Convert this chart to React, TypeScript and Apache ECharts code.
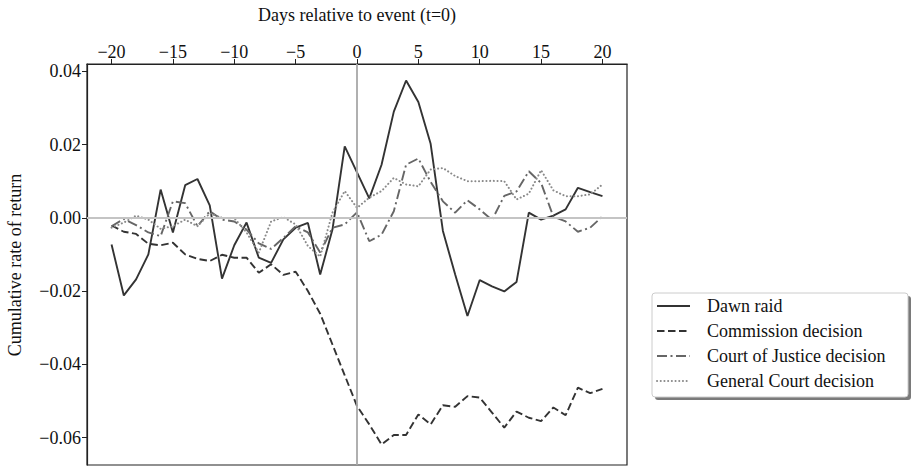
import React, { useEffect, useRef } from "react";
import * as echarts from "echarts";

const days = [-20, -19, -18, -17, -16, -15, -14, -13, -12, -11, -10, -9, -8, -7, -6, -5, -4, -3, -2, -1, 0, 1, 2, 3, 4, 5, 6, 7, 8, 9, 10, 11, 12, 13, 14, 15, 16, 17, 18, 19, 20];

const dawnRaid = [-0.0073, -0.0212, -0.0168, -0.0100, 0.0077, -0.0040, 0.0089, 0.0106, 0.0034, -0.0166, -0.0075, -0.0013, -0.0109, -0.0123, -0.0059, -0.0027, -0.0014, -0.0155, -0.0032, 0.0195, 0.0124, 0.0053, 0.0145, 0.0290, 0.0375, 0.0316, 0.0202, -0.0036, -0.0155, -0.0268, -0.0170, -0.0187, -0.0201, -0.0175, 0.0014, -0.0005, 0.0006, 0.0023, 0.0082, 0.0070, 0.0059];

const commission = [-0.0021, -0.0038, -0.0044, -0.0071, -0.0075, -0.0068, -0.0100, -0.0112, -0.0118, -0.0101, -0.0109, -0.0109, -0.0150, -0.0127, -0.0156, -0.0147, -0.0200, -0.0262, -0.0346, -0.0430, -0.0514, -0.0564, -0.0619, -0.0593, -0.0593, -0.0537, -0.0564, -0.0512, -0.0516, -0.0487, -0.0491, -0.0532, -0.0573, -0.0529, -0.0546, -0.0555, -0.0518, -0.0539, -0.0464, -0.0479, -0.0467];

const courtOfJustice = [-0.0023, -0.0003, -0.0020, -0.0040, -0.0050, 0.0045, 0.0040, -0.0023, 0.0018, -0.0005, -0.0010, -0.0032, -0.0070, -0.0085, -0.0055, -0.0023, -0.0040, -0.0095, -0.0027, -0.0018, 0.0015, -0.0064, -0.0046, 0.0018, 0.0145, 0.0162, 0.0098, 0.0045, 0.0014, 0.0048, 0.0023, -0.0006, 0.0060, 0.0072, 0.0127, 0.0095, 0.0003, -0.0010, -0.0038, -0.0027, 0.0004];

const generalCourt = [-0.0027, -0.0013, 0.0006, -0.0005, -0.0030, -0.0023, -0.0005, -0.0023, 0.0012, 0.0000, -0.0001, -0.0040, -0.0095, -0.0010, 0.0002, -0.0018, -0.0077, -0.0106, 0.0014, 0.0073, 0.0027, 0.0055, 0.0073, 0.0109, 0.0091, 0.0086, 0.0132, 0.0136, 0.0114, 0.0100, 0.0100, 0.0101, 0.0100, 0.0050, 0.0066, 0.0130, 0.0075, 0.0059, 0.0059, 0.0064, 0.0091];

const xTicks = [-20, -15, -10, -5, 0, 5, 10, 15, 20];
const yTicks = [-0.06, -0.04, -0.02, 0.0, 0.02, 0.04];

const seriesNames = ["Dawn raid", "Commission decision", "Court of Justice decision", "General Court decision"];
const seriesColors = ["#333333", "#333333", "#666666", "#8a8a8a"];
const seriesDash: any[] = ["solid", [7.5, 3.5], [10, 3.5, 2, 3.5], [0.1, 3.6]];

const FONT = "Liberation Serif";
const FS = 18;

function pairs(vals: number[]) {
  return days.map((d, i) => [d, vals[i]]);
}

function fmtMinus(s: string) {
  return s.replace("-", "\u2212");
}

export default function App() {
  const ref = useRef<HTMLDivElement>(null);
  useEffect(() => {
    if (!ref.current) return;
    const chart = echarts.init(ref.current, null, { renderer: "svg" });
    const lineBase = { type: "line", showSymbol: false, symbol: "none", smooth: false };

    const legendX = 652;
    const legendY = 293;
    const legendW = 256;
    const legendH = 104;
    const rowY0 = 306;
    const rowGap = 25;
    const legendGraphics: any[] = [
      { type: "rect", z: 50, shape: { x: legendX + 3, y: legendY + 3, width: legendW, height: legendH, r: 3 }, style: { fill: "#7a7a7a", stroke: "none" } },
      { type: "rect", z: 51, shape: { x: legendX, y: legendY, width: legendW, height: legendH, r: 3 }, style: { fill: "#ffffff", stroke: "#cccccc", lineWidth: 1 } },
    ];
    seriesNames.forEach((name, i) => {
      const y = rowY0 + i * rowGap;
      const dash = seriesDash[i];
      legendGraphics.push({
        type: "line",
        z: 52,
        shape: { x1: 657, y1: y, x2: 690, y2: y },
        style: { stroke: seriesColors[i], lineWidth: i === 3 ? 2 : 1.9, lineDash: dash === "solid" ? null : dash, lineCap: i === 3 ? "round" : "butt" },
      });
      legendGraphics.push({
        type: "text",
        z: 52,
        x: 707,
        y: y,
        style: { text: name, font: `${FS}px "${FONT}"`, fill: "#111", textAlign: "left", textVerticalAlign: "middle" },
      });
    });

    const option: any = {
      animation: false,
      backgroundColor: "#ffffff",
      textStyle: { fontFamily: FONT },
      grid: { left: 87, right: 285, top: 64, bottom: 2, show: true, borderColor: "#222", borderWidth: 1.2, backgroundColor: "transparent" },
      xAxis: {
        type: "value",
        position: "top",
        min: -22,
        max: 22,
        axisLine: { show: true, onZero: false, lineStyle: { color: "#222", width: 1.2 } },
        axisTick: { show: true, inside: false, length: 5, customValues: xTicks, lineStyle: { color: "#222", width: 1 } },
        axisLabel: { show: true, customValues: xTicks, fontSize: FS, color: "#111", margin: 3, fontFamily: FONT, formatter: (v: number) => fmtMinus(String(v)) },
        splitLine: { show: false },
      },
      yAxis: {
        type: "value",
        min: -0.0675,
        max: 0.042,
        axisLine: { show: true, onZero: false, lineStyle: { color: "#222", width: 1.2 } },
        axisTick: { show: true, inside: false, length: 5, customValues: yTicks, lineStyle: { color: "#222", width: 1 } },
        axisLabel: { show: true, customValues: yTicks, fontSize: FS, color: "#111", margin: 6, fontFamily: FONT, formatter: (v: number) => fmtMinus(v.toFixed(2)) },
        splitLine: { show: false },
      },
      graphic: [
        { type: "text", x: 357, y: 15, style: { text: "Days relative to event (t=0)", font: `${FS}px "${FONT}"`, fill: "#111", textAlign: "center", textVerticalAlign: "middle" } },
        { type: "text", x: 15, y: 265, rotation: Math.PI / 2, style: { text: "Cumulative rate of return", font: `${FS}px "${FONT}"`, fill: "#111", textAlign: "center", textVerticalAlign: "middle" } },
        ...legendGraphics,
      ],
      series: [
        {
          name: "ref",
          type: "line",
          data: [[0, 0]],
          showSymbol: false,
          symbol: "none",
          z: 1,
          lineStyle: { width: 0 },
          markLine: {
            silent: true,
            symbol: ["none", "none"],
            label: { show: false },
            data: [
              { yAxis: 0, lineStyle: { color: "#c4c4c4", width: 2, type: "solid" } },
              { xAxis: 0, lineStyle: { color: "#a8a8a8", width: 1.8, type: "solid" } },
            ],
          },
        },
        ...seriesNames.map((name, i) => ({
          ...lineBase,
          name,
          z: 3,
          data: pairs([dawnRaid, commission, courtOfJustice, generalCourt][i]),
          color: seriesColors[i],
          lineStyle: { color: seriesColors[i], width: i === 3 ? 2 : 1.9, type: seriesDash[i], cap: i === 3 ? "round" : "butt" },
        })),
      ],
    };
    chart.setOption(option);
    return () => chart.dispose();
  }, []);
  return <div ref={ref} style={{ position: "absolute", left: 0, top: 0, width: 912, height: 467 }} />;
}
